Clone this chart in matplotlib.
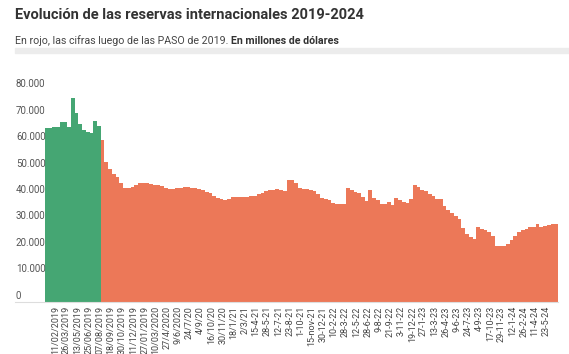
import numpy as np
import matplotlib
matplotlib.use("Agg")
import matplotlib.pyplot as plt
from matplotlib.patches import Rectangle

plt.rcParams['font.family'] = ['Roboto', 'DejaVu Sans']

# Reservas internacionales (millones de USD), una barra cada ~2 semanas
reservas = [65800, 66000, 66200, 66400, 68200, 68000, 66200, 77300, 71500, 67500,
            65000, 64500, 64000, 68500, 66800, 61500, 53000, 50200, 48600, 47300,
            45000, 43200, 43300, 43600, 44200, 44900, 45000, 44900, 44600, 44300,
            44200, 43800, 43200, 42800, 42700, 43100, 43300, 43400, 43400, 43200,
            43000, 42800, 42300, 41800, 41200, 40300, 39500, 38900, 38700, 39200,
            39600, 39700, 39700, 39700, 39800, 40000, 40300, 40800, 41400, 42200,
            42500, 42600, 42800, 42500, 42000, 46200, 46100, 45000, 43100, 42900,
            42700, 42400, 42000, 41000, 39400, 39200, 38800, 37400, 37300, 37200,
            37200, 43100, 42500, 41800, 41200, 39800, 38200, 42300, 39500, 38600,
            37300, 37200, 37800, 36900, 39300, 38600, 38000, 37400, 39000, 44400,
            43600, 42600, 41900, 40800, 40000, 39000, 38900, 36500, 35000, 33800,
            32500, 31400, 28200, 25800, 24500, 23800, 28300, 27800, 27300, 26600,
            25000, 21300, 21100, 21200, 21800, 23400, 25000, 26600, 27200, 27800,
            28300, 28500, 29600, 28300, 28600, 29000, 29400, 29500]

# cantidad de barras antes de las PASO (en verde)
antes_paso = 15

fechas = ['11/02/2019', '26/03/2019', '13/05/2019', '25/06/2019', '07/08/2019',
          '18/09/2019', '30/10/2019', '11/12/2019', '27/01/2019', '10/03/2020',
          '27/4/2020', '9/6/2020', '24/7/20', '4/9/20', '16/10/20', '30/11/20',
          '18/1/21', '2/3/21', '15-4-21', '28-5-21', '12-7-21', '23-8-21',
          '1-10-21', '15-nov-21', '30-12-21', '10-2-22', '28-3-22', '12-5-22',
          '28-6-22', '9-8-22', '21-9-22', '3-11-22', '19-12-22', '27-1-23',
          '13-3-23', '26-4-23', '9-6-23', '24-7-23', '4-9-23', '17-10-23',
          '29-11-23', '12-1-24', '26-2-24', '11-4-24', '23-5-24']

y_valores = [0, 10000, 20000, 30000, 40000, 50000, 60000, 70000, 80000]

verde = '#45a673'
rojo = '#ec7858'

W, H = 569, 354
fig = plt.figure(figsize=(W / 100, H / 100), dpi=100)
fig.patch.set_facecolor('white')

ax = fig.add_axes([45 / W, (H - 302) / H, 513 / W, 211.2 / H])

x = np.arange(len(reservas))
colores = [verde if i < antes_paso else rojo for i in range(len(reservas))]
ax.bar(x, reservas, width=1.0, color=colores, linewidth=0)

ax.set_xlim(-0.5, len(reservas) - 0.5)
ax.set_ylim(0, 80000)

for s in ax.spines.values():
    s.set_visible(False)

# etiquetas del eje x, una cada 3 barras
ax.set_xticks(np.arange(len(fechas)) * 3 + 2.3)
ax.set_xticklabels(fechas, rotation=90, fontsize=6.5, color='#444444')
ax.tick_params(axis='x', length=0, pad=3)

# etiquetas del eje y, alineadas a la izquierda y sobre la linea
ax.set_yticks([])
for v in y_valores:
    etiqueta = '{:,}'.format(v).replace(',', '.')
    ax.text(-29 / 513, v + 500, etiqueta, transform=ax.get_yaxis_transform(),
            ha='left', va='bottom', fontsize=7, color='#555555')

ax.axhline(0, xmin=-30 / 513, xmax=1, color='#dddddd', linewidth=0.8, clip_on=False)

# titulo y subtitulo
fig.text(15 / W, 1 - 15 / H, 'Evolución de las reservas internacionales 2019-2024',
         fontsize=10.5, fontweight='bold', color='#333333', va='center', ha='left')
t = fig.text(15 / W, 1 - 41 / H, 'En rojo, las cifras luego de las PASO de 2019. ',
             fontsize=7.7, color='#444444', va='center', ha='left')
fig.canvas.draw()
bb = t.get_window_extent()
fig.text(bb.x1 / W, 1 - 41 / H, 'En millones de dólares',
         fontsize=7.7, fontweight='bold', color='#333333', va='center', ha='left')

fig.patches.append(Rectangle((15 / W, 1 - 53 / H), (W - 15) / W, 5 / H,
                             transform=fig.transFigure, color='#ececec', zorder=0))

fig.savefig('out.png', dpi=100, facecolor='white')
